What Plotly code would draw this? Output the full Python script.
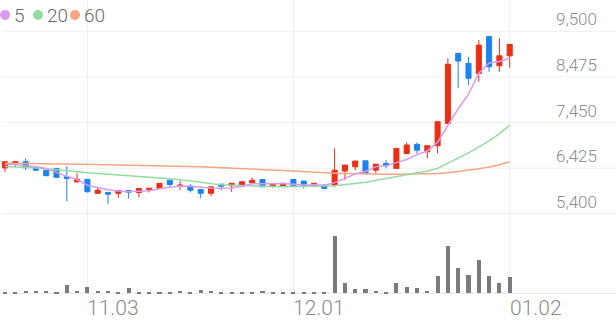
import plotly.graph_objects as go

# ---------------- data ----------------
days = ["10.22", "10.23", "10.24", "10.27", "10.28", "10.29", "10.30", "10.31",
        "11.03", "11.04", "11.05", "11.06", "11.07", "11.10", "11.11", "11.12",
        "11.13", "11.14", "11.17", "11.18", "11.19", "11.20", "11.21", "11.24",
        "11.25", "11.26", "11.27", "11.28", "12.01", "12.02", "12.03", "12.04",
        "12.05", "12.08", "12.09", "12.10", "12.11", "12.12", "12.15", "12.16",
        "12.17", "12.18", "12.19", "12.22", "12.23", "12.24", "12.26", "12.29",
        "12.30", "01.02"]

opens = [6430, 6540, 6570, 6435, 6380, 6420, 6230, 6120, 6175, 5860,
         5880, 5860, 5925, 5880, 5940, 5970, 6155, 6020, 6020, 5945,
         5860, 6065, 6030, 6020, 6095, 6170, 6020, 6020, 6170, 6135,
         6045, 6045, 6045, 6360, 6455, 6590, 6380, 6530, 6420, 6755,
         6960, 6795, 6930, 7430, 9005, 8780, 8555, 9380, 8725, 8950]
highs = [6570, 6570, 6645, 6435, 6380, 6420, 6470, 6310, 6175, 5985,
         5880, 5925, 5925, 5970, 5980, 6085, 6155, 6135, 6065, 5945,
         6005, 6065, 6085, 6120, 6215, 6170, 6060, 6085, 6170, 6135,
         6085, 6045, 6870, 6495, 6585, 6590, 6515, 6605, 6870, 7005,
         7005, 6930, 7470, 8895, 9005, 8930, 9305, 9380, 9340, 9205]
lows = [6340, 6455, 6380, 6360, 6250, 6215, 5685, 6095, 5880, 5860,
        5620, 5760, 5745, 5775, 5880, 5970, 6005, 5930, 5880, 5745,
        5795, 5930, 5895, 6000, 6065, 6005, 5985, 6020, 6030, 5970,
        6005, 5970, 6005, 6155, 6380, 6310, 6310, 6420, 6420, 6735,
        6755, 6645, 6755, 7430, 8220, 8295, 8365, 8590, 8590, 8680]
closes = [6570, 6570, 6435, 6380, 6255, 6220, 6195, 6175, 5895, 5930,
          5840, 5925, 5885, 5970, 5975, 6085, 6060, 6045, 5930, 5860,
          6005, 6020, 6085, 6120, 6155, 6005, 6060, 6085, 6030, 6030,
          6085, 5970, 6380, 6495, 6585, 6310, 6515, 6480, 6870, 6945,
          6830, 6930, 7470, 8760, 8830, 8445, 9190, 8705, 8950, 9205]
volumes = [13000, 13000, 27000, 23000, 20000, 17000, 80000, 23000, 60000, 23000,
           27000, 13000, 57000, 10000, 10000, 10000, 10000, 23000, 13000, 30000,
           20000, 13000, 13000, 13000, 13000, 20000, 10000, 10000, 10000, 17000,
           17000, 17000, 577000, 107000, 40000, 40000, 27000, 17000, 107000, 67000,
           50000, 23000, 173000, 477000, 257000, 183000, 333000, 173000, 100000, 167000]

ma5 = [6520, 6510, 6480, 6460, 6420, 6330, 6240, 6170, 6040, 5990,
       5940, 5915, 5895, 5905, 5920, 5965, 5995, 6025, 6020, 5995,
       5980, 5975, 5980, 6020, 6075, 6075, 6080, 6080, 6065, 6045,
       6055, 6040, 6100, 6190, 6300, 6350, 6460, 6480, 6550, 6620,
       6730, 6810, 7010, 7390, 7760, 8090, 8560, 8790, 8820, 8900]
ma20 = [6460, 6455, 6445, 6430, 6410, 6385, 6365, 6345, 6320, 6305,
        6290, 6275, 6260, 6245, 6232, 6215, 6190, 6165, 6135, 6105,
        6083, 6050, 6040, 6030, 6025, 6020, 6015, 6010, 6010, 6015,
        6020, 6025, 6030, 6050, 6080, 6110, 6150, 6190, 6240, 6275,
        6310, 6360, 6420, 6530, 6650, 6770, 6900, 7040, 7200, 7390]
ma60 = [6535, 6530, 6527, 6524, 6521, 6518, 6515, 6512, 6509, 6506,
        6503, 6500, 6497, 6494, 6490, 6483, 6476, 6469, 6462, 6455,
        6447, 6438, 6429, 6420, 6410, 6398, 6385, 6370, 6355, 6342,
        6330, 6320, 6312, 6305, 6300, 6295, 6292, 6290, 6290, 6290,
        6292, 6296, 6305, 6320, 6345, 6375, 6410, 6450, 6500, 6570]

price_ticks = [9500, 8475, 7450, 6425, 5400]
price_tick_text = ["9,500", "8,475", "7,450", "6,425", "5,400"]
x_tick_pos = [8, 28, 49]
x_tick_text = ["11.03", "12.01", "01.02"]
ma_names = ["5", "20", "60"]

# ---------------- styles ----------------
W, H = 616, 321
RED = "#eb2f13"
BLUE = "#1c83f0"
C5, C20, C60 = "#d99bf0", "#93dca0", "#f7a582"
GRID = "#efefef"
TXT = "#8c8c8c"
FONT = "Roboto"

x = list(range(len(opens)))

fig = go.Figure()

fig.add_trace(go.Bar(x=x, y=volumes, yaxis="y2", marker=dict(color="#7b7b7b", line=dict(width=0)),
                     width=0.4, showlegend=False, hoverinfo="skip"))

for vals, col in [(ma60, C60), (ma20, C20), (ma5, C5)]:
    fig.add_trace(go.Scatter(x=x, y=vals, mode="lines", line=dict(color=col, width=1.5),
                             showlegend=False, hoverinfo="skip"))

fig.add_trace(go.Candlestick(
    x=x, open=opens, high=highs, low=lows, close=closes, text=days,
    increasing=dict(line=dict(color=RED, width=1), fillcolor=RED),
    decreasing=dict(line=dict(color=BLUE, width=1), fillcolor=BLUE),
    whiskerwidth=0, showlegend=False))

# pixel -> axis mapping helpers (only for the axis ranges)
grid_top_px, grid_bot_px = 31.3, 213.8
per_px = (price_ticks[0] - price_ticks[-1]) / (grid_bot_px - grid_top_px)
y_top = price_ticks[0] + grid_top_px * per_px
y_bot = price_ticks[0] - (H - grid_top_px) * per_px
vol_base_px = 293.3
vol_per_px = 10000
v_top = vol_base_px * vol_per_px
v_bot = -(H - vol_base_px) * vol_per_px
x0_px, step_px = 5.0, 10.3
x_left = -x0_px / step_px
x_right = (W - x0_px) / step_px

shapes = []
for xi in x_tick_pos:
    shapes.append(dict(type="line", xref="x", yref="paper", x0=xi, x1=xi,
                       y0=1 - 294 / H, y1=1, line=dict(color=GRID, width=1), layer="below"))
for p in price_ticks:
    shapes.append(dict(type="line", xref="paper", yref="y", x0=3 / W, x1=1, y0=p, y1=p,
                       line=dict(color="#e9e9e9" if p == price_ticks[-1] else GRID, width=1),
                       layer="below"))
shapes.append(dict(type="line", xref="paper", yref="y2", x0=3 / W, x1=1, y0=0, y1=0,
                   line=dict(color="#e6e6e6", width=1), layer="below"))

annotations = []
for p, t in zip(price_ticks, price_tick_text):
    annotations.append(dict(x=599 / W, xref="paper", y=p, yref="y", yshift=12, text=t,
                            showarrow=False, xanchor="right", yanchor="middle",
                            font=dict(family=FONT, size=17, color=TXT, weight=300)))
for xi, t in zip(x_tick_pos, x_tick_text):
    annotations.append(dict(x=xi, xref="x", y=1 - 308 / H, yref="paper", text=t,
                            showarrow=False, xanchor="left", yanchor="middle", xshift=-2,
                            font=dict(family=FONT, size=21, color=TXT, weight=300)))

# legend: coloured dots + labels
leg_y = 1 - 15 / H
leg_dot_px = [5, 38, 75]
leg_txt_px = [12, 45, 82]
for c, n, dpx, tpx in zip([C5, C20, C60], ma_names, leg_dot_px, leg_txt_px):
    shapes.append(dict(type="circle", xref="paper", yref="paper",
                       x0=(dpx - 5) / W, x1=(dpx + 5) / W,
                       y0=leg_y - 5 / H, y1=leg_y + 5 / H,
                       fillcolor=c, line=dict(width=0)))
    annotations.append(dict(x=tpx / W, xref="paper", y=leg_y, yref="paper", text=n,
                            showarrow=False, xanchor="left", yanchor="middle",
                            font=dict(family=FONT, size=19, color="#6a6a6a", weight=300)))

fig.update_layout(
    width=W, height=H, margin=dict(l=0, r=0, t=0, b=0),
    paper_bgcolor="white", plot_bgcolor="white",
    showlegend=False, shapes=shapes, annotations=annotations,
    xaxis=dict(range=[x_left, x_right], showgrid=False, zeroline=False, showticklabels=False,
               rangeslider=dict(visible=False), fixedrange=True),
    yaxis=dict(range=[y_bot, y_top], showgrid=False, zeroline=False, showticklabels=False),
    yaxis2=dict(range=[v_bot, v_top], overlaying="y", showgrid=False, zeroline=False,
                showticklabels=False),
    bargap=0,
)

fig.write_html("out.html")
